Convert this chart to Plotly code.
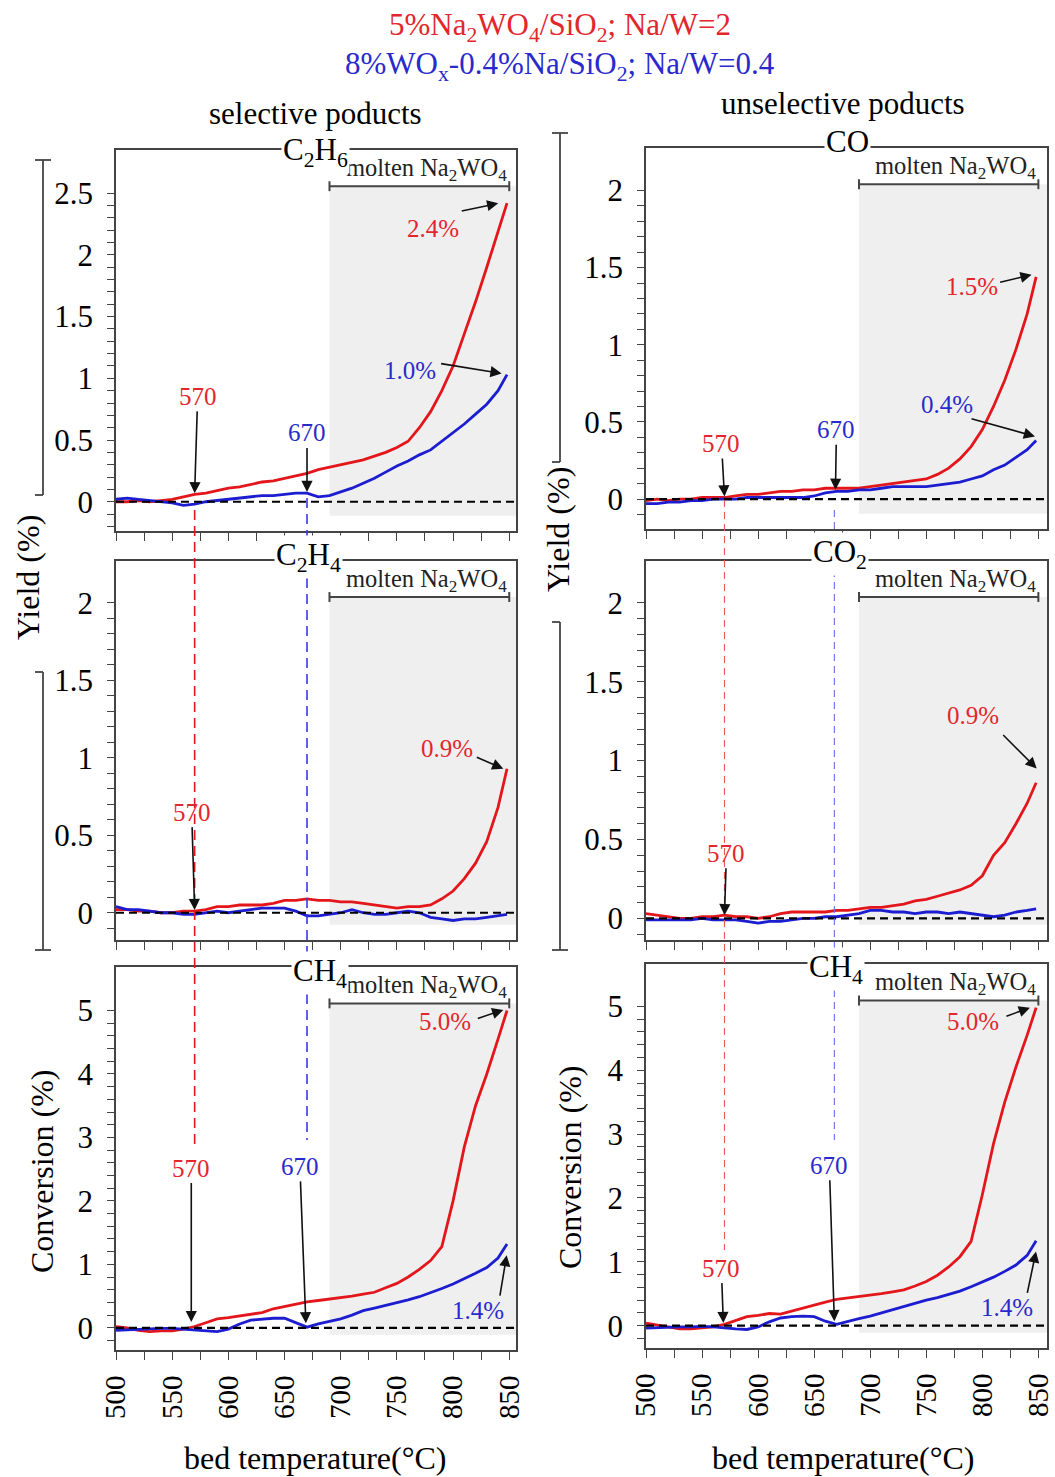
import numpy as np
import plotly.graph_objects as go

# ---------------- data ----------------
T = [500, 510, 520, 530, 540, 550, 560, 570, 580, 590, 600, 610, 620, 630, 640, 650, 660, 670,
     680, 690, 700, 710, 720, 730, 740, 750, 760, 770, 780, 790, 800, 810, 820, 830, 840, 848]

c2h6_red = [0.00, 0.00, 0.01, 0.00, 0.01, 0.02, 0.04, 0.06, 0.07, 0.09, 0.11, 0.12, 0.14, 0.16, 0.17, 0.19,
            0.21, 0.23, 0.26, 0.28, 0.30, 0.32, 0.34, 0.37, 0.40, 0.44, 0.49, 0.60, 0.73, 0.90, 1.10, 1.36,
            1.62, 1.90, 2.20, 2.42]
c2h6_blue = [0.02, 0.03, 0.02, 0.01, 0.00, -0.01, -0.03, -0.02, 0.00, 0.01, 0.02, 0.03, 0.04, 0.05, 0.05,
             0.06, 0.07, 0.07, 0.04, 0.05, 0.08, 0.11, 0.15, 0.19, 0.24, 0.29, 0.33, 0.38, 0.42, 0.49, 0.56,
             0.63, 0.71, 0.79, 0.90, 1.03]
co_red = [-0.01, 0.00, -0.01, 0.00, 0.00, 0.01, 0.01, 0.01, 0.02, 0.03, 0.03, 0.04, 0.05, 0.05, 0.06, 0.06,
          0.07, 0.07, 0.07, 0.07, 0.08, 0.09, 0.10, 0.11, 0.12, 0.13, 0.16, 0.20, 0.26, 0.34, 0.45, 0.60,
          0.77, 0.97, 1.20, 1.44]
co_blue = [-0.03, -0.03, -0.02, -0.02, -0.01, -0.01, 0.00, 0.00, 0.00, 0.01, 0.01, 0.01, 0.01, 0.01, 0.01,
           0.02, 0.04, 0.05, 0.05, 0.06, 0.06, 0.07, 0.08, 0.08, 0.08, 0.08, 0.09, 0.10, 0.11, 0.13, 0.15,
           0.19, 0.22, 0.27, 0.32, 0.38]
c2h4_red = [0.02, 0.02, 0.01, 0.01, 0.00, 0.00, 0.01, 0.01, 0.02, 0.04, 0.04, 0.05, 0.05, 0.05, 0.06, 0.08,
            0.08, 0.09, 0.08, 0.08, 0.07, 0.07, 0.06, 0.05, 0.04, 0.03, 0.04, 0.04, 0.05, 0.09, 0.14, 0.22,
            0.32, 0.46, 0.68, 0.93]
c2h4_blue = [0.04, 0.02, 0.02, 0.01, 0.00, 0.00, -0.01, -0.01, 0.00, 0.01, 0.00, 0.01, 0.02, 0.03, 0.03,
             0.03, 0.01, -0.02, -0.02, -0.01, 0.00, 0.02, 0.00, -0.01, -0.01, 0.00, 0.01, 0.00, -0.03, -0.04,
             -0.05, -0.04, -0.04, -0.03, -0.02, -0.01]
co2_red = [0.03, 0.02, 0.01, 0.00, 0.00, 0.01, 0.01, 0.02, 0.01, 0.01, 0.00, 0.01, 0.03, 0.04, 0.04, 0.04,
           0.04, 0.05, 0.05, 0.06, 0.07, 0.07, 0.08, 0.09, 0.11, 0.12, 0.14, 0.16, 0.18, 0.21, 0.27, 0.40,
           0.48, 0.60, 0.73, 0.86]
co2_blue = [-0.01, -0.01, -0.01, -0.01, -0.01, 0.00, -0.01, -0.01, -0.01, -0.02, -0.03, -0.02, -0.02, -0.01,
            0.00, 0.00, 0.01, 0.01, 0.02, 0.03, 0.05, 0.05, 0.04, 0.04, 0.03, 0.04, 0.04, 0.03, 0.04, 0.03,
            0.02, 0.01, 0.02, 0.04, 0.05, 0.06]
ch4_red_l = [0.02, 0.00, -0.04, -0.06, -0.05, -0.05, -0.02, 0.02, 0.08, 0.14, 0.16, 0.19, 0.21, 0.24, 0.30,
             0.34, 0.38, 0.41, 0.43, 0.45, 0.47, 0.50, 0.53, 0.56, 0.63, 0.70, 0.80, 0.92, 1.06, 1.28, 2.00,
             2.85, 3.50, 4.00, 4.55, 5.00]
ch4_blue_l = [-0.04, -0.03, -0.03, -0.02, -0.01, -0.01, -0.02, -0.04, -0.05, -0.06, -0.02, 0.06, 0.12, 0.14,
              0.15, 0.15, 0.08, 0.01, 0.06, 0.10, 0.14, 0.20, 0.27, 0.31, 0.35, 0.40, 0.44, 0.49, 0.55, 0.62,
              0.69, 0.77, 0.86, 0.95, 1.10, 1.32]
ch4_red_r = [0.04, 0.01, -0.03, -0.05, -0.05, -0.04, -0.02, 0.02, 0.08, 0.14, 0.16, 0.19, 0.18, 0.23, 0.28,
             0.32, 0.37, 0.41, 0.43, 0.45, 0.47, 0.50, 0.53, 0.56, 0.62, 0.69, 0.79, 0.92, 1.08, 1.32, 2.05,
             2.85, 3.50, 4.05, 4.55, 4.98]
ch4_blue_r = [-0.04, -0.03, -0.03, -0.02, -0.02, -0.01, -0.02, -0.04, -0.05, -0.06, -0.02, 0.06, 0.12, 0.14,
              0.15, 0.14, 0.07, 0.02, 0.07, 0.11, 0.15, 0.20, 0.26, 0.31, 0.35, 0.40, 0.44, 0.49, 0.54, 0.61,
              0.68, 0.76, 0.85, 0.95, 1.10, 1.33]

x_tick_labels = ["500", "550", "600", "650", "700", "750", "800", "850"]
y_labels_yield25 = ["0", "0.5", "1", "1.5", "2", "2.5"]
y_labels_yield2 = ["0", "0.5", "1", "1.5", "2"]
y_labels_conv = ["0", "1", "2", "3", "4", "5"]

molten_start, molten_end = 690, 850
onset_red, onset_blue = 570, 670

# ---------------- style / layout ----------------
W, H = 1055, 1477
FONT = "Liberation Serif"
RED, BLUE = "#e3161b", "#1c1cd0"
RED_T, BLUE_T = "#e3262c", "#2a2acc"
FRAME = "#444444"
GRAY = "#efefef"


def PX(x):
    return x / W


def PY(y):
    return 1 - y / H


panels = [
    dict(title="C<sub>2</sub>H<sub>6</sub>", red=c2h6_red, blue=c2h6_blue, xd=(116, 516), yd=(150, 531),
         xr=(500, 856), yr=(-0.237, 2.85), ylab=y_labels_yield25, major=0.5, minor=0.1, ymin=-0.2,
         tpos=(315, 152)),
    dict(title="CO", red=co_red, blue=co_blue, xd=(646, 1047), yd=(148, 529),
         xr=(500, 857.7), yr=(-0.194, 2.275), ylab=y_labels_yield2, major=0.5, minor=0.1, ymin=-0.1,
         tpos=(847, 141)),
    dict(title="C<sub>2</sub>H<sub>4</sub>", red=c2h4_red, blue=c2h4_blue, xd=(116, 516), yd=(561, 940),
         xr=(500, 856), yr=(-0.176, 2.271), ylab=y_labels_yield2, major=0.5, minor=0.1, ymin=-0.1,
         tpos=(308, 557)),
    dict(title="CO<sub>2</sub>", red=co2_red, blue=co2_blue, xd=(646, 1047), yd=(561, 940),
         xr=(500, 857.7), yr=(-0.1375, 2.266), ylab=y_labels_yield2, major=0.5, minor=0.1, ymin=-0.1,
         tpos=(840, 554)),
    dict(title="CH<sub>4</sub>", red=ch4_red_l, blue=ch4_blue_l, xd=(116, 516), yd=(967, 1350),
         xr=(500, 856), yr=(-0.35, 5.686), ylab=y_labels_conv, major=1, minor=0.2, ymin=-0.2,
         tpos=(320, 973)),
    dict(title="CH<sub>4</sub>", red=ch4_red_r, blue=ch4_blue_r, xd=(646, 1047), yd=(964, 1348),
         xr=(500, 857.7), yr=(-0.35, 5.664), ylab=y_labels_conv, major=1, minor=0.2, ymin=-0.2,
         tpos=(836, 969)),
]

# onset labels with arrows: (panel, text, color, x, y, ax, ay)
onset_notes = [
    (1, "570", RED_T, onset_red, 0.068, 3, -97), (1, "670", BLUE_T, onset_blue, 0.08, 0, -59),
    (2, "570", RED_T, onset_red, 0.017, -3, -53), (2, "670", BLUE_T, 669, 0.06, 1, -60),
    (3, "570", RED_T, onset_red, 0.017, -3, -98),
    (4, "570", RED_T, onset_red, 0.02, 2, -62),
    (5, "570", RED_T, 567, 0.09, 0, -154), (5, "670", BLUE_T, 669, 0.07, -6, -157),
    (6, "570", RED_T, 569, 0.04, -2, -55), (6, "670", BLUE_T, 668, 0.07, -5, -156),
]
# end-value labels: (panel, text, color, x, y)
end_labels = [
    (1, "2.4%", RED_T, 782, 2.216), (1, "1.0%", BLUE_T, 761.6, 1.067),
    (2, "1.5%", RED_T, 790.5, 1.378), (2, "0.4%", BLUE_T, 768.2, 0.611),
    (3, "0.9%", RED_T, 794.3, 1.061),
    (4, "0.9%", RED_T, 792, 1.288),
    (5, "5.0%", RED_T, 792.8, 4.82), (5, "1.4%", BLUE_T, 822.4, 0.279),
    (6, "5.0%", RED_T, 792, 4.76), (6, "1.4%", BLUE_T, 821.8, 0.277),
]
# arrows pointing at curve ends: (panel, x, y, ax, ay)
end_arrows = [
    (1, 840.2, 2.418, -38, 8), (1, 843.2, 1.04, -62, -10),
    (2, 844, 1.454, -33, 8), (2, 847, 0.406, -65, -18),
    (3, 844.7, 0.93, -28, -12),
    (4, 848.5, 0.95, -35, -35),
    (5, 844.7, 5.01, -27, 9), (5, 847.7, 1.145, -7, 42),
    (6, 842.5, 4.98, -25, 9), (6, 847.9, 1.163, -9, 43),
]

fig = go.Figure()
shapes = []
annotations = []

x_tickvals = list(range(500, 851, 25))

for i, p in enumerate(panels, start=1):
    sx = "" if i == 1 else str(i)
    xa, ya = "x" + sx, "y" + sx
    bottom = i >= 5
    fig.add_trace(go.Scatter(x=T, y=p["red"], mode="lines", line=dict(color=RED, width=2.8),
                             xaxis=xa, yaxis=ya, showlegend=False))
    fig.add_trace(go.Scatter(x=T, y=p["blue"], mode="lines", line=dict(color=BLUE, width=2.8),
                             xaxis=xa, yaxis=ya, showlegend=False))

    xtext = []
    for v in x_tickvals:
        if bottom and v % 50 == 0:
            xtext.append(x_tick_labels[(v - 500) // 50])
        else:
            xtext.append(" ")
    ytop = p["major"] * (len(p["ylab"]) - 1)
    yvals = [round(v, 3) for v in np.arange(p["ymin"], ytop + 1e-9, p["minor"])]
    ytext = []
    for v in yvals:
        k = v / p["major"]
        if abs(k - round(k)) < 1e-6 and v >= -1e-9:
            ytext.append(p["ylab"][int(round(k))])
        else:
            ytext.append(" ")

    fig.layout["xaxis" + sx] = dict(
        domain=[PX(p["xd"][0]), PX(p["xd"][1])], range=list(p["xr"]), anchor=ya, automargin=False,
        showline=True, mirror=True, linecolor=FRAME, linewidth=1.6,
        ticks="outside", ticklen=8, tickwidth=1.3, tickcolor=FRAME,
        tickvals=x_tickvals, ticktext=xtext, tickangle=-90, ticklabelstandoff=4,
        tickfont=dict(family=FONT, size=29, color="black"),
        showgrid=False, zeroline=False, fixedrange=True)
    fig.layout["yaxis" + sx] = dict(
        domain=[PY(p["yd"][1]), PY(p["yd"][0])], range=list(p["yr"]), anchor=xa, automargin=False,
        showline=True, mirror=True, linecolor=FRAME, linewidth=1.6,
        ticks="outside", ticklen=7, tickwidth=1.3, tickcolor=FRAME,
        tickvals=yvals, ticktext=ytext, ticklabelstandoff=8,
        tickfont=dict(family=FONT, size=31, color="black"),
        showgrid=False, zeroline=False, fixedrange=True)

    # molten region shading
    shapes.append(dict(type="rect", xref=xa, yref=ya + " domain", x0=molten_start, x1=p["xr"][1],
                       y0=0.04, y1=0.905, fillcolor=GRAY, line=dict(width=0), layer="below"))
    # zero dashed line
    shapes.append(dict(type="line", xref=xa + " domain", yref=ya, x0=0, x1=1, y0=0, y1=0,
                       line=dict(color="black", width=2.2, dash="8px,5px")))
    # molten bracket
    shapes.append(dict(type="line", xref=xa, yref=ya + " domain", x0=molten_start, x1=molten_end,
                       y0=0.905, y1=0.905, line=dict(color=FRAME, width=2)))
    for xv in (molten_start, molten_end):
        shapes.append(dict(type="line", xref=xa, yref=ya + " domain", x0=xv, x1=xv,
                           y0=0.892, y1=0.918, line=dict(color=FRAME, width=2)))
    annotations.append(dict(xref=xa, yref=ya + " domain", x=776, y=0.905, xanchor="center",
                            yanchor="bottom", yshift=-1, text="molten Na<sub>2</sub>WO<sub>4</sub>",
                            showarrow=False, font=dict(family=FONT, size=24.5, color="#222")))

# cross-panel dashed onset lines
shapes.append(dict(type="line", xref="x5", yref="paper", x0=onset_red, x1=onset_red,
                   y0=PY(510), y1=PY(1150), line=dict(color=RED, width=1.6, dash="10px,6px")))
shapes.append(dict(type="line", xref="x5", yref="paper", x0=onset_blue, x1=onset_blue,
                   y0=PY(498), y1=PY(1140), line=dict(color="#3a3ae0", width=1.6, dash="10px,6px")))
shapes.append(dict(type="line", xref="x6", yref="paper", x0=onset_red, x1=onset_red,
                   y0=PY(500), y1=PY(1250), line=dict(color="#ee5555", width=1.1, dash="7px,5px")))
shapes.append(dict(type="line", xref="x6", yref="paper", x0=668, x1=668,
                   y0=PY(510), y1=PY(1140), line=dict(color="#6a6ae6", width=1.1, dash="7px,5px")))


# Yield brackets (left and right)
def bracket(x, y_top, y_mid1, y_mid2, y_bot, cap):
    out = []
    ln = dict(color=FRAME, width=1.8)
    out.append(dict(type="line", xref="paper", yref="paper", x0=PX(x), x1=PX(x), y0=PY(y_top), y1=PY(y_mid1), line=ln))
    out.append(dict(type="line", xref="paper", yref="paper", x0=PX(x), x1=PX(x), y0=PY(y_mid2), y1=PY(y_bot), line=ln))
    for yy in (y_top, y_bot):
        out.append(dict(type="line", xref="paper", yref="paper", x0=PX(x - cap), x1=PX(x + cap), y0=PY(yy), y1=PY(yy), line=ln))
    for yy in (y_mid1, y_mid2):
        out.append(dict(type="line", xref="paper", yref="paper", x0=PX(x - 8), x1=PX(x), y0=PY(yy), y1=PY(yy), line=ln))
    return out


shapes += bracket(43, 160, 495, 672, 950, 8)
shapes += bracket(560, 133, 462, 622, 950, 8)

# end labels and arrows
for (pi, txt_, col, x, y) in end_labels:
    sx = "" if pi == 1 else str(pi)
    annotations.append(dict(xref="x" + sx, yref="y" + sx, x=x, y=y, text=txt_, showarrow=False,
                            xanchor="center", yanchor="middle",
                            font=dict(family=FONT, size=25, color=col)))
for (pi, x, y, ax, ay) in end_arrows:
    sx = "" if pi == 1 else str(pi)
    annotations.append(dict(xref="x" + sx, yref="y" + sx, x=x, y=y, text="", showarrow=True,
                            ax=ax, ay=ay, arrowhead=2, arrowsize=1.4, arrowwidth=1.6, arrowcolor="#111"))
for (pi, txt_, col, x, y, ax, ay) in onset_notes:
    sx = "" if pi == 1 else str(pi)
    annotations.append(dict(xref="x" + sx, yref="y" + sx, x=x, y=y, text=txt_, showarrow=True,
                            ax=ax, ay=ay, arrowhead=2, arrowsize=1.4, arrowwidth=1.6, arrowcolor="#111",
                            font=dict(family=FONT, size=25, color=col)))

# panel titles on the top frame (white background interrupts the frame line)
for p in panels:
    annotations.append(dict(xref="paper", yref="paper", x=PX(p["tpos"][0]), y=PY(p["tpos"][1]),
                            xanchor="center", yanchor="middle",
                            text=p["title"], showarrow=False, bgcolor="white", borderpad=1,
                            font=dict(family=FONT, size=31, color="black")))


# headings and axis titles
def txt(x, y, s, size, color="black", angle=0):
    annotations.append(dict(xref="paper", yref="paper", x=PX(x), y=PY(y), text=s, showarrow=False,
                            xanchor="center", yanchor="middle",
                            textangle=angle, font=dict(family=FONT, size=size, color=color)))


txt(560, 27, "5%Na<sub>2</sub>WO<sub>4</sub>/SiO<sub>2</sub>; Na/W=2", 31, RED_T)
txt(560, 66, "8%WO<sub>x</sub>-0.4%Na/SiO<sub>2</sub>; Na/W=0.4", 31, BLUE_T)
txt(315, 114, "selective poducts", 31)
txt(843, 103, "unselective poducts", 31)
txt(28, 578, "Yield (%)", 32, angle=-90)
txt(558, 530, "Yield (%)", 32, angle=-90)
txt(42, 1171, "Conversion (%)", 32, angle=-90)
txt(570, 1167, "Conversion (%)", 32, angle=-90)
txt(315, 1458, "bed temperature(°C)", 32)
txt(843, 1458, "bed temperature(°C)", 32)

fig.update_layout(width=W, height=H, margin=dict(l=0, r=0, t=0, b=0, pad=0, autoexpand=False),
                  paper_bgcolor="white", plot_bgcolor="white", showlegend=False,
                  shapes=shapes, annotations=annotations)

fig.write_html("out.html", config={"displayModeBar": False},
               post_script="document.body.style.margin='0';document.body.style.padding='0';")
